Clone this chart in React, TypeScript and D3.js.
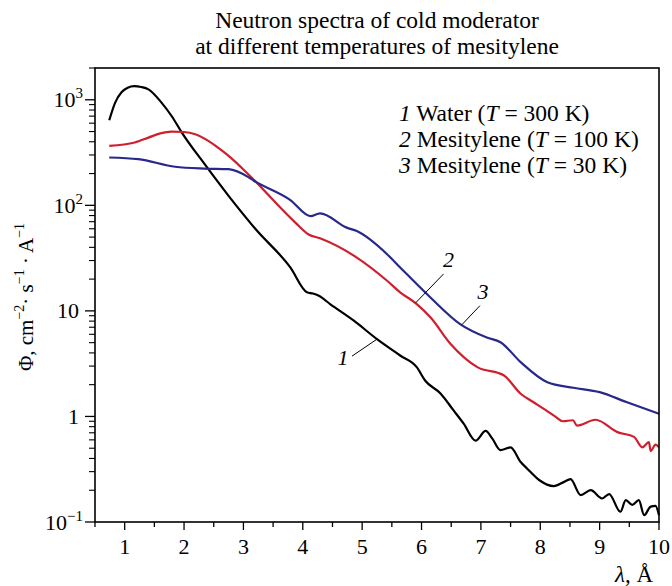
import * as d3 from "d3";

// curve 1 - water, T = 300 K
const lambdaWater = [0.74, 0.84, 0.95, 1.05, 1.16, 1.28, 1.4, 1.62, 1.79, 1.96, 2.36, 2.75, 3.2, 3.79, 4.07, 4.17, 4.27, 4.46, 4.86, 5.25, 5.64, 5.92, 6.06, 6.32, 6.54, 6.71, 6.91, 7.08, 7.19, 7.33, 7.5, 7.67, 7.78, 7.98, 8.23, 8.4, 8.51, 8.68, 8.85, 9.04, 9.16, 9.35, 9.44, 9.55, 9.66, 9.75, 9.86, 9.94, 10];
const fluxWater = [640, 940, 1183, 1300, 1346, 1320, 1254, 940, 702, 492, 240, 123, 60, 25.8, 15, 14.6, 13.9, 11.6, 8.07, 5.4, 3.78, 2.93, 2.19, 1.65, 1.14, 0.855, 0.59, 0.73, 0.62, 0.48, 0.51, 0.37, 0.32, 0.25, 0.219, 0.24, 0.255, 0.18, 0.2, 0.167, 0.184, 0.125, 0.161, 0.145, 0.161, 0.116, 0.14, 0.142, 0.116];

// curve 2 - mesitylene, T = 100 K
const lambdaMes100 = [0.74, 1.17, 1.4, 1.6, 1.79, 2.0, 2.19, 2.64, 2.78, 3.09, 3.87, 4.1, 4.29, 4.91, 5.42, 5.64, 5.92, 6.15, 6.49, 6.94, 7.39, 7.67, 7.88, 8.1, 8.26, 8.38, 8.55, 8.62, 8.93, 9.3, 9.58, 9.72, 9.83, 9.86, 9.94, 10];
const fluxMes100 = [366, 394, 438, 480, 500, 495, 471, 330, 285, 195, 69, 53, 48.7, 32, 19.3, 15, 11.6, 8.7, 4.86, 2.93, 2.44, 1.64, 1.37, 1.14, 0.99, 0.9, 0.92, 0.82, 0.93, 0.71, 0.64, 0.51, 0.57, 0.47, 0.54, 0.51];

// curve 3 - mesitylene, T = 30 K
const lambdaMes30 = [0.74, 1.23, 1.85, 2.35, 2.75, 3.09, 3.17, 3.79, 4.13, 4.29, 4.74, 4.91, 5.42, 5.64, 6.15, 6.65, 7.1, 7.33, 7.67, 8.12, 8.56, 9.0, 9.45, 10];
const fluxMes30 = [284, 274, 232, 223, 220, 184, 172, 112, 79, 84, 61.5, 57, 34.4, 25.8, 13.4, 7.5, 5.6, 5.05, 3.27, 2.11, 1.87, 1.7, 1.37, 1.06];

const curveNumbers = ["1", "2", "3"];
const curveNames = ["Water", "Mesitylene", "Mesitylene"];
const curveTemps = ["300", "100", "30"];
const curveColors = ["#000000", "#cf1f2e", "#27288a"];

// where the numbered leader lines touch the curves
const leaderLambda = [5.25, 5.9, 6.68];
const leaderFlux = [5.4, 11.9, 7.4];

const xTicks = [1, 2, 3, 4, 5, 6, 7, 8, 9, 10];
const yTicks = [0.1, 1, 10, 100, 1000];
const yTickBase = ["10", "1", "10", "10", "10"];
const yTickSup = ["−1", "", "", "2", "3"];

const W = 672;
const H = 586;
const margin = { top: 68, right: 13, bottom: 64, left: 95 };
const font = "'Liberation Serif', 'Times New Roman', serif";

// label position relative to leader anchor
const leaderLayout = [
  { dx: -25, dy: 17, tx: -34, ty: 26 },
  { dx: 28, dy: -29, tx: 33, ty: -36 },
  { dx: 18, dy: -19, tx: 21, ty: -26 },
];

export default function App() {
  const x = d3.scaleLinear().domain([0.5, 10]).range([margin.left, W - margin.right]);
  const y = d3.scaleLog().domain([0.1, 2000]).range([H - margin.bottom, margin.top]);

  const line = d3
    .line<[number, number]>()
    .x((d) => x(d[0]))
    .y((d) => y(d[1]))
    .curve(d3.curveMonotoneX);

  const series = [
    d3.zip(lambdaWater, fluxWater) as [number, number][],
    d3.zip(lambdaMes100, fluxMes100) as [number, number][],
    d3.zip(lambdaMes30, fluxMes30) as [number, number][],
  ];

  const xMinor = d3.range(0.5, 10.01, 0.5).filter((v) => !xTicks.includes(v));
  const yMinor: number[] = [];
  [0.1, 1, 10, 100, 1000].forEach((dec) => {
    for (let m = 2; m <= 9; m++) if (dec * m <= 2000) yMinor.push(dec * m);
  });

  const [x0, x1] = x.range();
  const [y0, y1] = y.range();

  return (
    <svg
      width={W}
      height={H}
      style={{ position: "absolute", left: 0, top: 0, background: "#fff" }}
      fontFamily={font}
    >
      {/* title */}
      <text x={(x0 + x1) / 2} y={28} textAnchor="middle" fontSize={23.5}>
        Neutron spectra of cold moderator
      </text>
      <text x={(x0 + x1) / 2} y={54} textAnchor="middle" fontSize={23.5}>
        at different temperatures of mesitylene
      </text>

      {/* curves */}
      {series.map((s, i) => (
        <path key={i} d={line(s) || ""} fill="none" stroke={curveColors[i]} strokeWidth={2.2} strokeLinejoin="round" />
      ))}

      {/* frame */}
      <rect x={x0} y={y1} width={x1 - x0} height={y0 - y1} fill="none" stroke="#000" strokeWidth={1.6} />

      {/* x axis */}
      {xTicks.map((t) => (
        <g key={t}>
          <line x1={x(t)} x2={x(t)} y1={y0} y2={y0 + 8} stroke="#000" strokeWidth={1.3} />
          <text x={x(t)} y={554} textAnchor="middle" fontSize={22}>
            {t}
          </text>
        </g>
      ))}
      {xMinor.map((t) => (
        <line key={t} x1={x(t)} x2={x(t)} y1={y0} y2={y0 + 5} stroke="#000" strokeWidth={1.3} />
      ))}
      <text x={653} y={582} textAnchor="end" fontSize={23}>
        <tspan fontStyle="italic">λ</tspan>, Å
      </text>

      {/* y axis */}
      {yTicks.map((t, i) => (
        <g key={t}>
          <line x1={x0 - 10} x2={x0} y1={y(t)} y2={y(t)} stroke="#000" strokeWidth={1.3} />
          <text x={yTickSup[i] ? 83 : 79} y={y(t) + 7.5} textAnchor="end" fontSize={22}>
            {yTickBase[i]}
            {yTickSup[i] && (
              <tspan fontSize={15} dy={-9}>
                {yTickSup[i]}
              </tspan>
            )}
          </text>
        </g>
      ))}
      {yMinor.map((t) => (
        <line key={t} x1={x0 - 6} x2={x0} y1={y(t)} y2={y(t)} stroke="#000" strokeWidth={1.1} />
      ))}
      <text transform={`translate(33,${(y0 + y1) / 2 + 2}) rotate(-90)`} textAnchor="middle" fontSize={21}>
        Φ, cm
        <tspan fontSize={14} dy={-9}>−2</tspan>
        <tspan dy={9}>· s</tspan>
        <tspan fontSize={14} dy={-9}>−1</tspan>
        <tspan dy={9}> · A</tspan>
        <tspan fontSize={14} dy={-9}>−1</tspan>
      </text>

      {/* legend */}
      {curveNumbers.map((n, i) => (
        <text key={n} x={399} y={121 + i * 26} fontSize={23.5}>
          <tspan fontStyle="italic">{n}</tspan> {curveNames[i]} (<tspan fontStyle="italic">T</tspan> = {curveTemps[i]} K)
        </text>
      ))}

      {/* numbered leaders */}
      {curveNumbers.map((n, i) => {
        const ax = x(leaderLambda[i]);
        const ay = y(leaderFlux[i]);
        const l = leaderLayout[i];
        return (
          <g key={n}>
            <line x1={ax} y1={ay} x2={ax + l.dx} y2={ay + l.dy} stroke="#000" strokeWidth={1} />
            <text x={ax + l.tx} y={ay + l.ty} textAnchor="middle" fontSize={22} fontStyle="italic">
              {n}
            </text>
          </g>
        );
      })}
    </svg>
  );
}
